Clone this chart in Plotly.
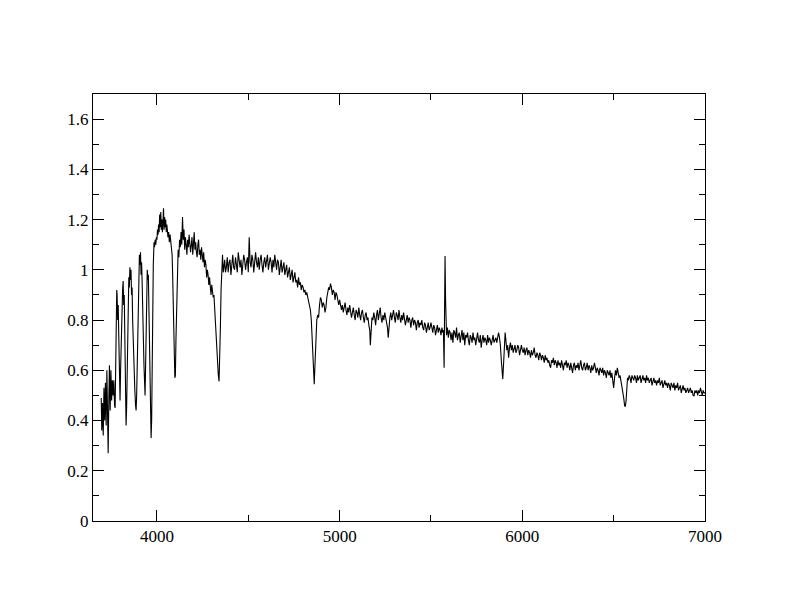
import plotly.graph_objects as go

# ---- blue part (Balmer series region), wavelength in Angstrom ----
wave_blue = [3695, 3698, 3702, 3706, 3710, 3714, 3718, 3722, 3726, 3730, 3733, 3737, 3740, 3744, 3748,
             3752, 3756, 3760, 3764, 3768, 3771, 3774, 3777, 3780, 3782, 3785, 3788, 3791, 3795, 3798,
             3801, 3805, 3809, 3812, 3815, 3818, 3821, 3824, 3828, 3831, 3834, 3837, 3840, 3843, 3846,
             3849, 3852, 3855, 3858, 3861, 3864, 3867, 3871, 3875, 3879, 3883, 3886, 3889, 3892, 3895,
             3898, 3901, 3904, 3907, 3910, 3913, 3916, 3919, 3922, 3925, 3929, 3932, 3935, 3938, 3941,
             3944, 3947, 3950, 3953, 3956, 3959, 3962, 3965, 3968, 3971, 3975, 3980, 3984, 3987, 3990,
             3994, 3997, 4000, 4003, 4006, 4009, 4012, 4015, 4018, 4021, 4024, 4027, 4030, 4033, 4036,
             4039, 4042, 4045, 4048, 4051, 4054, 4057, 4060, 4064, 4068, 4072, 4076, 4080, 4083, 4086,
             4090, 4094, 4098, 4101, 4104, 4108, 4112, 4116, 4120, 4124, 4128, 4132, 4136, 4140, 4144,
             4148, 4152, 4156, 4160, 4164, 4168, 4172, 4176, 4180, 4184, 4188, 4192, 4196, 4200, 4204,
             4208, 4212, 4216, 4220, 4224, 4228, 4232, 4236, 4240, 4244, 4248, 4252, 4256, 4260, 4264,
             4268, 4272, 4276, 4280, 4284, 4288, 4292, 4296, 4300, 4304, 4308, 4312, 4316, 4320, 4324,
             4328, 4332, 4336, 4340, 4343, 4347, 4351, 4355, 4359, 4363, 4367, 4371, 4375]
flux_blue = [0.49, 0.36, 0.47, 0.34, 0.53, 0.40, 0.55, 0.38, 0.60, 0.42, 0.27, 0.50, 0.62, 0.44, 0.60,
             0.48, 0.56, 0.50, 0.56, 0.46, 0.45, 0.60, 0.76, 0.92, 0.90, 0.80, 0.86, 0.74, 0.60, 0.48,
             0.60, 0.78, 0.85, 0.92, 0.955, 0.86, 0.90, 0.70, 0.50, 0.38, 0.45, 0.62, 0.80, 0.88, 0.97,
             0.93, 1.01, 0.96, 1.00, 0.90, 0.93, 0.80, 0.68, 0.60, 0.52, 0.46, 0.44, 0.50, 0.65, 0.80,
             0.92, 1.00, 1.06, 1.02, 1.07, 0.98, 1.03, 0.95, 0.88, 0.75, 0.62, 0.52, 0.50, 0.62, 0.80,
             0.92, 1.00, 0.96, 0.98, 0.85, 0.70, 0.55, 0.42, 0.33, 0.40, 0.74, 1.02, 1.11, 1.09, 1.12,
             1.10, 1.13, 1.12, 1.16, 1.14, 1.18, 1.15, 1.22, 1.17, 1.23, 1.16, 1.20, 1.15, 1.19, 1.245,
             1.16, 1.21, 1.17, 1.20, 1.15, 1.18, 1.16, 1.13, 1.15, 1.11, 1.14, 1.10, 1.08, 1.06, 0.98,
             0.85, 0.70, 0.57, 0.58, 0.72, 0.88, 1.02, 1.08, 1.05, 1.12, 1.09, 1.15, 1.10, 1.21, 1.12,
             1.16, 1.08, 1.13, 1.10, 1.06, 1.12, 1.09, 1.14, 1.11, 1.07, 1.10, 1.13, 1.06, 1.09, 1.15,
             1.08, 1.11, 1.07, 1.05, 1.10, 1.12, 1.06, 1.08, 1.04, 1.09, 1.06, 1.03, 1.07, 1.01, 1.04,
             1.02, 0.97, 1.00, 0.98, 0.94, 0.97, 0.93, 0.90, 0.94, 0.91, 0.89, 0.90, 0.84, 0.76, 0.70,
             0.65, 0.61, 0.58, 0.556, 0.62, 0.76, 0.92, 1.00, 1.06, 0.99, 1.02, 1.04, 0.99]

# ---- plateau and H-beta (wavelength, flux) ----
plateau_pairs = [
    (4380, 1.01), (4385, 1.05), (4390, 0.99), (4395, 1.03), (4400, 1.04), (4405, 0.98), (4410, 1.02),
    (4415, 1.06), (4420, 1.01), (4425, 1.00), (4430, 1.05), (4435, 1.02), (4440, 0.99), (4445, 1.07),
    (4450, 1.03), (4455, 1.01), (4460, 1.04), (4465, 0.98), (4470, 1.02), (4475, 1.06), (4480, 1.04),
    (4485, 1.00), (4490, 1.03), (4495, 1.05), (4500, 0.99), (4505, 1.13), (4510, 1.03), (4515, 1.01),
    (4520, 1.06), (4525, 1.04), (4530, 0.99), (4535, 1.02), (4540, 1.07), (4545, 1.03), (4550, 1.01),
    (4555, 1.05), (4560, 1.00), (4565, 1.04), (4570, 1.06), (4575, 1.02), (4580, 0.99), (4585, 1.03),
    (4590, 1.05), (4595, 1.01), (4600, 1.04), (4605, 1.06), (4610, 1.00), (4615, 1.02), (4620, 1.05),
    (4625, 1.03), (4630, 0.99), (4635, 1.04), (4640, 1.01), (4645, 1.06), (4650, 1.02), (4655, 1.00),
    (4660, 1.04), (4665, 1.03), (4670, 0.98), (4675, 1.02), (4680, 1.04), (4685, 0.99), (4690, 1.01),
    (4695, 1.03), (4700, 0.98), (4705, 1.00), (4710, 1.02), (4715, 0.97), (4720, 0.99), (4725, 1.01),
    (4730, 0.96), (4735, 0.98), (4740, 1.00), (4745, 0.95), (4750, 0.97), (4755, 0.99), (4760, 0.95),
    (4765, 0.96), (4770, 0.93), (4775, 0.97), (4780, 0.94), (4785, 0.95), (4790, 0.92), (4795, 0.94),
    (4800, 0.93), (4805, 0.91), (4810, 0.92), (4815, 0.90), (4820, 0.91), (4825, 0.89), (4830, 0.88),
    (4835, 0.86), (4840, 0.84), (4845, 0.80), (4852, 0.70), (4857, 0.60), (4861, 0.545), (4865, 0.62),
    (4870, 0.76), (4875, 0.80), (4880, 0.82), (4885, 0.81),
]

# ---- 4890 - 5568 A (wavelength, flux) ----
mid_pairs = [
    (4890, 0.86), (4895, 0.89), (4900, 0.88), (4905, 0.85), (4910, 0.87), (4915, 0.86), (4920, 0.83),
    (4925, 0.85), (4930, 0.89), (4935, 0.91), (4940, 0.93), (4945, 0.92), (4950, 0.945), (4955, 0.93),
    (4960, 0.90), (4965, 0.92), (4970, 0.91), (4975, 0.88), (4980, 0.91), (4985, 0.90), (4990, 0.87),
    (4995, 0.86), (5000, 0.88), (5005, 0.85), (5010, 0.84), (5015, 0.86), (5020, 0.83), (5025, 0.85),
    (5030, 0.87), (5035, 0.84), (5040, 0.82), (5045, 0.85), (5050, 0.83), (5055, 0.86), (5060, 0.84),
    (5065, 0.81), (5070, 0.83), (5075, 0.85), (5080, 0.82), (5085, 0.80), (5090, 0.84), (5095, 0.83),
    (5100, 0.81), (5105, 0.85), (5110, 0.82), (5115, 0.80), (5120, 0.83), (5125, 0.84), (5130, 0.81),
    (5135, 0.79), (5140, 0.82), (5145, 0.83), (5150, 0.80), (5155, 0.81), (5160, 0.78), (5165, 0.76),
    (5168, 0.70), (5172, 0.77), (5177, 0.81), (5182, 0.80), (5187, 0.83), (5192, 0.81), (5197, 0.78),
    (5202, 0.82), (5207, 0.84), (5212, 0.80), (5217, 0.82), (5222, 0.85), (5227, 0.81), (5232, 0.79),
    (5237, 0.82), (5242, 0.80), (5247, 0.83), (5252, 0.81), (5257, 0.79), (5262, 0.77), (5266, 0.73),
    (5270, 0.78), (5275, 0.81), (5280, 0.83), (5285, 0.80), (5290, 0.82), (5295, 0.84), (5300, 0.81),
    (5305, 0.79), (5310, 0.83), (5315, 0.82), (5320, 0.80), (5325, 0.84), (5330, 0.81), (5335, 0.79),
    (5340, 0.82), (5345, 0.80), (5350, 0.83), (5355, 0.81), (5360, 0.78), (5365, 0.80), (5370, 0.82),
    (5375, 0.79), (5380, 0.81), (5385, 0.80), (5390, 0.77), (5395, 0.80), (5400, 0.81), (5405, 0.78),
    (5410, 0.80), (5415, 0.79), (5420, 0.76), (5425, 0.79), (5430, 0.80), (5435, 0.77), (5440, 0.79),
    (5445, 0.78), (5450, 0.80), (5455, 0.77), (5460, 0.76), (5465, 0.79), (5470, 0.78), (5475, 0.75),
    (5480, 0.78), (5485, 0.79), (5490, 0.76), (5495, 0.77), (5500, 0.79), (5505, 0.76), (5510, 0.75),
    (5515, 0.78), (5520, 0.77), (5525, 0.74), (5530, 0.77), (5535, 0.78), (5540, 0.75), (5545, 0.77),
    (5550, 0.76), (5555, 0.74), (5560, 0.77), (5565, 0.75), (5568, 0.76),
]

# ---- sky-line residual near 5577 A ----
wave_sky = [5572, 5574, 5577, 5580]
flux_sky = [0.61, 0.80, 1.055, 0.88]

# ---- red part 5585 - 7000 A (wavelength, flux) ----
red_pairs = [
    (5585, 0.74), (5590, 0.77), (5595, 0.73), (5600, 0.76), (5605, 0.75), (5610, 0.72), (5615, 0.75),
    (5620, 0.71), (5625, 0.76), (5630, 0.75), (5635, 0.73), (5640, 0.77), (5645, 0.72), (5650, 0.74),
    (5655, 0.75), (5660, 0.71), (5665, 0.73), (5670, 0.76), (5675, 0.72), (5680, 0.75), (5685, 0.70),
    (5690, 0.74), (5695, 0.73), (5700, 0.75), (5705, 0.72), (5710, 0.70), (5715, 0.74), (5720, 0.73),
    (5725, 0.71), (5730, 0.75), (5735, 0.72), (5740, 0.73), (5745, 0.70), (5750, 0.74), (5755, 0.75),
    (5760, 0.72), (5765, 0.71), (5770, 0.74), (5775, 0.69), (5780, 0.72), (5785, 0.74), (5790, 0.71),
    (5795, 0.73), (5800, 0.72), (5805, 0.70), (5810, 0.74), (5815, 0.71), (5820, 0.73), (5825, 0.72),
    (5830, 0.70), (5835, 0.73), (5840, 0.74), (5845, 0.71), (5850, 0.72), (5855, 0.73), (5860, 0.71),
    (5865, 0.74), (5870, 0.75), (5875, 0.73), (5880, 0.70), (5885, 0.64), (5889, 0.58), (5893, 0.565),
    (5897, 0.62), (5901, 0.70), (5906, 0.75), (5910, 0.72), (5915, 0.68), (5920, 0.70), (5925, 0.65),
    (5930, 0.69), (5935, 0.71), (5940, 0.68), (5945, 0.70), (5950, 0.67), (5955, 0.69), (5960, 0.70),
    (5965, 0.67), (5970, 0.68), (5975, 0.70), (5980, 0.69), (5985, 0.66), (5990, 0.69), (5995, 0.70),
    (6000, 0.68), (6005, 0.67), (6010, 0.69), (6015, 0.66), (6020, 0.68), (6025, 0.69), (6030, 0.66),
    (6035, 0.68), (6040, 0.67), (6045, 0.65), (6050, 0.68), (6055, 0.66), (6060, 0.67), (6065, 0.69),
    (6070, 0.66), (6075, 0.65), (6080, 0.67), (6085, 0.66), (6090, 0.64), (6095, 0.67), (6100, 0.66),
    (6105, 0.64), (6110, 0.66), (6115, 0.65), (6120, 0.63), (6125, 0.66), (6130, 0.64), (6135, 0.65),
    (6140, 0.63), (6145, 0.64), (6150, 0.62), (6155, 0.61), (6160, 0.64), (6165, 0.63), (6170, 0.65),
    (6175, 0.62), (6180, 0.64), (6185, 0.63), (6190, 0.61), (6195, 0.64), (6200, 0.62), (6205, 0.63),
    (6210, 0.61), (6215, 0.64), (6220, 0.62), (6225, 0.60), (6230, 0.63), (6235, 0.62), (6240, 0.64),
    (6245, 0.61), (6250, 0.63), (6255, 0.62), (6260, 0.60), (6265, 0.63), (6270, 0.61), (6275, 0.59),
    (6280, 0.62), (6285, 0.63), (6290, 0.60), (6295, 0.62), (6300, 0.61), (6305, 0.63), (6310, 0.60),
    (6315, 0.62), (6320, 0.64), (6325, 0.61), (6330, 0.60), (6335, 0.62), (6340, 0.63), (6345, 0.60),
    (6350, 0.61), (6355, 0.63), (6360, 0.60), (6365, 0.62), (6370, 0.61), (6375, 0.59), (6380, 0.62),
    (6385, 0.60), (6390, 0.61), (6395, 0.63), (6400, 0.60), (6405, 0.59), (6410, 0.61), (6415, 0.60),
    (6420, 0.58), (6425, 0.61), (6430, 0.60), (6435, 0.59), (6440, 0.61), (6445, 0.58), (6450, 0.60),
    (6455, 0.59), (6460, 0.57), (6465, 0.60), (6470, 0.59), (6475, 0.58), (6480, 0.60), (6485, 0.57),
    (6490, 0.59), (6495, 0.56), (6500, 0.53), (6505, 0.57), (6510, 0.60), (6515, 0.58), (6520, 0.61),
    (6525, 0.59), (6530, 0.57), (6535, 0.58), (6540, 0.56), (6545, 0.54), (6550, 0.52), (6555, 0.49),
    (6560, 0.46), (6564, 0.455), (6568, 0.48), (6572, 0.53), (6576, 0.57), (6580, 0.56), (6585, 0.58),
    (6590, 0.57), (6595, 0.55), (6600, 0.58), (6605, 0.57), (6610, 0.56), (6615, 0.58), (6620, 0.57),
    (6625, 0.55), (6630, 0.58), (6635, 0.56), (6640, 0.57), (6645, 0.58), (6650, 0.55), (6655, 0.57),
    (6660, 0.58), (6665, 0.56), (6670, 0.57), (6675, 0.55), (6680, 0.58), (6685, 0.56), (6690, 0.57),
    (6695, 0.55), (6700, 0.56), (6705, 0.57), (6710, 0.54), (6715, 0.56), (6720, 0.57), (6725, 0.55),
    (6730, 0.56), (6735, 0.54), (6740, 0.56), (6745, 0.55), (6750, 0.57), (6755, 0.54), (6760, 0.55),
    (6765, 0.56), (6770, 0.53), (6775, 0.55), (6780, 0.56), (6785, 0.54), (6790, 0.55), (6795, 0.53),
    (6800, 0.55), (6805, 0.54), (6810, 0.52), (6815, 0.55), (6820, 0.54), (6825, 0.53), (6830, 0.55),
    (6835, 0.52), (6840, 0.54), (6845, 0.53), (6850, 0.55), (6855, 0.52), (6860, 0.53), (6865, 0.54),
    (6870, 0.51), (6875, 0.53), (6880, 0.54), (6885, 0.52), (6890, 0.53), (6895, 0.51), (6900, 0.52),
    (6905, 0.53), (6910, 0.51), (6915, 0.52), (6920, 0.53), (6925, 0.51), (6930, 0.52), (6935, 0.50),
    (6940, 0.497), (6945, 0.52), (6950, 0.51), (6955, 0.52), (6960, 0.50), (6965, 0.52), (6970, 0.51),
    (6975, 0.53), (6980, 0.51), (6985, 0.50), (6990, 0.52), (6995, 0.51), (7000, 0.51),
]

wave_plateau = [w for w, f in plateau_pairs]
flux_plateau = [f for w, f in plateau_pairs]
wave_mid = [w for w, f in mid_pairs]
flux_mid = [f for w, f in mid_pairs]
wave_red = [w for w, f in red_pairs]
flux_red = [f for w, f in red_pairs]

wavelength = wave_blue + wave_plateau + wave_mid + wave_sky + wave_red
flux = flux_blue + flux_plateau + flux_mid + flux_sky + flux_red

x_ticks = [4000, 5000, 6000, 7000]
y_ticks = [0, 0.2, 0.4, 0.6, 0.8, 1.0, 1.2, 1.4, 1.6]
y_tick_text = ["0", "0.2", "0.4", "0.6", "0.8", "1", "1.2", "1.4", "1.6"]

fig = go.Figure()
fig.add_trace(go.Scatter(x=wavelength, y=flux, mode="lines",
                         line=dict(color="black", width=1.1), showlegend=False))

axis_common = dict(
    showgrid=False, zeroline=False, showline=True, linecolor="black", linewidth=1,
    mirror="ticks", ticks="inside", ticklen=11, tickwidth=1, tickcolor="black",
    tickfont=dict(family="Liberation Serif", size=17, color="black"),
)

fig.update_xaxes(range=[3650, 7000], tickvals=x_ticks, ticktext=[str(v) for v in x_ticks],
                 minor=dict(ticks="inside", ticklen=6, tickcolor="black", dtick=500, tick0=0, showgrid=False),
                 **axis_common)
fig.update_yaxes(range=[0, 1.7], tickvals=y_ticks, ticktext=y_tick_text,
                 minor=dict(ticks="inside", ticklen=6, tickcolor="black", dtick=0.1, tick0=0, showgrid=False),
                 **axis_common)

fig.update_layout(
    width=792, height=612,
    margin=dict(l=85, r=95, t=86, b=99),
    paper_bgcolor="white", plot_bgcolor="white",
)

fig.write_html("out.html")
